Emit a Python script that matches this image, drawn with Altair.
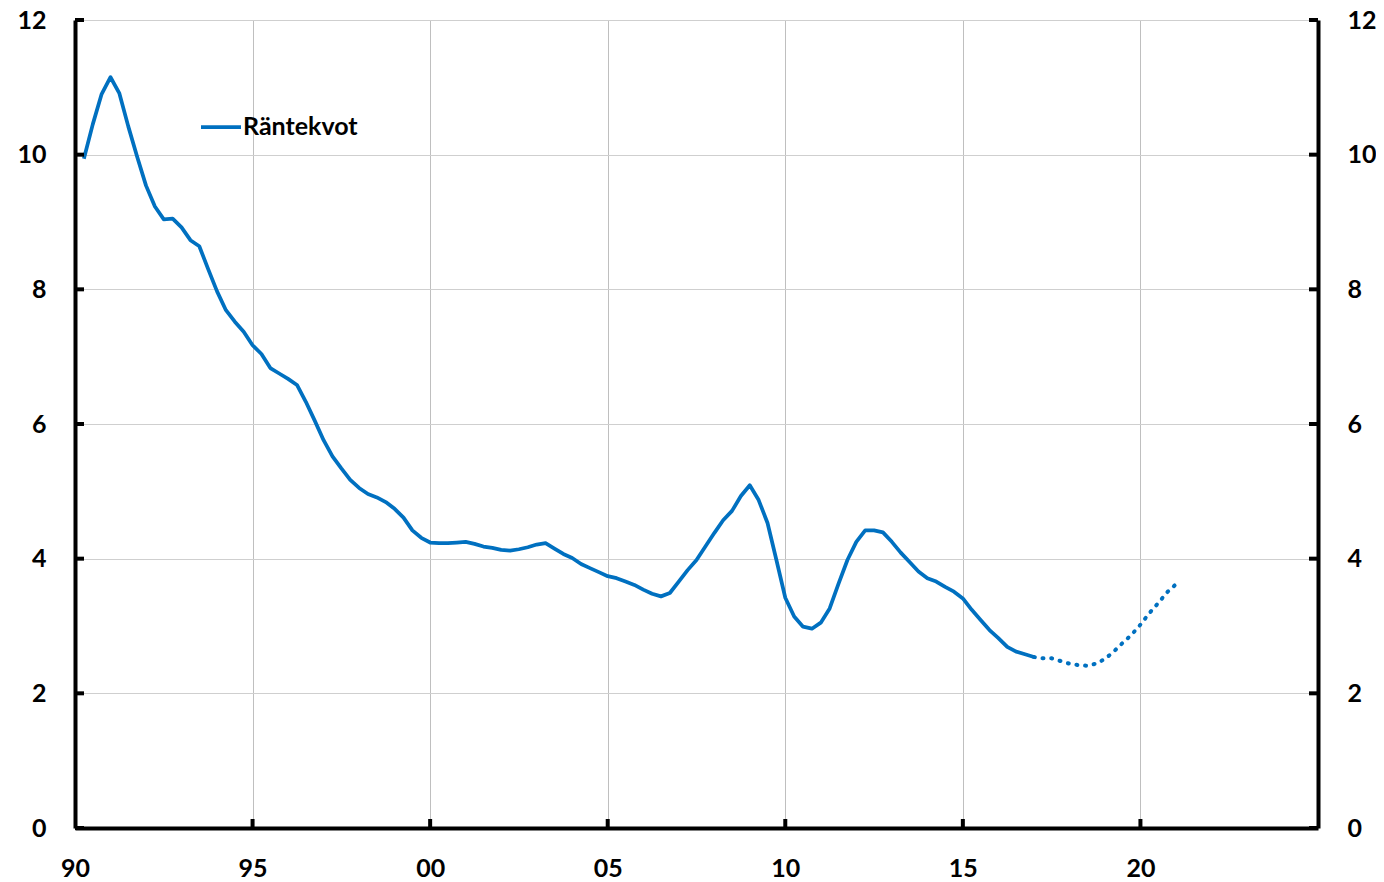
import altair as alt
import pandas as pd

# ---- data (quarterly) ----
series = ["Räntekvot"]
start_t = 1990.25
step_t = 0.25
actual = [
    9.94, 10.45, 10.90, 11.15, 10.91, 10.42, 9.97, 9.54,
    9.23, 9.04, 9.05, 8.92, 8.73, 8.64, 8.30, 7.97,
    7.69, 7.52, 7.37, 7.17, 7.04, 6.83, 6.75, 6.67,
    6.58, 6.33, 6.05, 5.76, 5.52, 5.34, 5.17, 5.05,
    4.96, 4.91, 4.84, 4.74, 4.61, 4.42, 4.31, 4.24,
    4.23, 4.23, 4.24, 4.25, 4.22, 4.18, 4.16, 4.13,
    4.12, 4.14, 4.17, 4.21, 4.23, 4.15, 4.07, 4.01,
    3.92, 3.86, 3.80, 3.74, 3.71, 3.66, 3.61, 3.54,
    3.48, 3.44, 3.49, 3.66, 3.83, 3.98, 4.18, 4.38,
    4.57, 4.71, 4.93, 5.09, 4.87, 4.53, 3.98, 3.42,
    3.14, 2.99, 2.96, 3.05, 3.26, 3.63, 3.98, 4.25,
    4.42, 4.42, 4.39, 4.25, 4.09, 3.95, 3.81, 3.71,
    3.66, 3.58, 3.51, 3.41, 3.24, 3.09, 2.94, 2.82,
    2.69, 2.62, 2.58, 2.54,
]
forecast = [
    2.54, 2.52, 2.52, 2.48, 2.44, 2.42, 2.41, 2.44,
    2.51, 2.62, 2.75, 2.87, 3.02, 3.19, 3.34, 3.50, 3.62,
]
x_ticks = [1990, 1995, 2000, 2005, 2010, 2015, 2020]
x_inner_ticks = [1995, 2000, 2005, 2010, 2015, 2020]
y_ticks = [0, 2, 4, 6, 8, 10, 12]
x_domain = [1990, 2025]
y_domain = [0, 12]

t_actual = [start_t + i * step_t for i in range(len(actual))]
t_fore = [t_actual[-1] + i * step_t for i in range(len(forecast))]

df_a = pd.DataFrame({"t": t_actual, "v": actual, "serie": series[0]})
df_f = pd.DataFrame({"t": t_fore, "v": forecast})
df_yt = pd.DataFrame({"v": y_ticks})
df_xt = pd.DataFrame({"t": x_inner_ticks})

# ---- styling ----
FONT = "Lato"
BLUE = "#0070C0"
W, H = 1243, 808
TICK = 9

xscale = alt.Scale(domain=x_domain, nice=False, zero=False)
yscale = alt.Scale(domain=y_domain, nice=False, zero=True)

label_style = dict(labelFont=FONT, labelFontSize=25, labelFontWeight="bold",
                   labelColor="black", title=None, ticks=False,
                   domainColor="black", domainWidth=4, labelFlush=False,
                   labelOverlap=False)

xaxis = alt.Axis(values=x_ticks, labelExpr="substring(toString(datum.value), 2, 4)",
                 grid=True, gridColor="#bfbfbf", gridWidth=1, labelPadding=28,
                 **label_style)
yaxis_left = alt.Axis(values=y_ticks, orient="left", grid=True, gridColor="#cfcfcf",
                      gridWidth=1, labelPadding=29, format="d", **label_style)
yaxis_right = alt.Axis(values=y_ticks, orient="right", grid=False, labelPadding=29,
                       labelAlign="left", format="d", **label_style)

solid = alt.Chart(df_a).mark_line(strokeWidth=3.75, strokeJoin="round").encode(
    x=alt.X("t:Q", scale=xscale, axis=xaxis),
    y=alt.Y("v:Q", scale=yscale, axis=yaxis_left),
    color=alt.Color(
        "serie:N",
        scale=alt.Scale(domain=series, range=[BLUE]),
        legend=alt.Legend(
            orient="none", legendX=124, legendY=85, title=None,
            symbolType="stroke", symbolSize=1600, symbolStrokeWidth=3.75,
            labelFont=FONT, labelFontSize=25, labelFontWeight="bold",
            labelColor="black", labelOffset=0, padding=0,
        ),
    ),
)

dotted = alt.Chart(df_f).mark_line(
    strokeWidth=4, strokeDash=[1, 7.7], strokeCap="round", color=BLUE
).encode(x=alt.X("t:Q"), y=alt.Y("v:Q"))

left_ticks = alt.Chart(df_yt).mark_rule(strokeWidth=4, color="black").encode(
    y=alt.Y("v:Q"), x=alt.value(0), x2=alt.value(TICK)
)
bottom_ticks = alt.Chart(df_xt).mark_rule(strokeWidth=4, color="black").encode(
    x=alt.X("t:Q"), y=alt.value(H), y2=alt.value(H - TICK)
)

left_layer = alt.layer(solid, dotted, left_ticks, bottom_ticks)

right_ticks = alt.Chart(df_yt).mark_rule(strokeWidth=4, color="black").encode(
    y=alt.Y("v:Q", scale=yscale, axis=yaxis_right),
    x=alt.value(W - TICK), x2=alt.value(W),
)

chart = (
    alt.layer(left_layer, right_ticks)
    .resolve_scale(y="independent")
    .properties(
        width=W, height=H,
        padding={"left": 67, "top": 12, "right": 58, "bottom": 50},
        autosize=alt.AutoSizeParams(type="none"),
        background="white",
    )
    .configure_view(stroke=None)
)

chart.save("out.html", embed_options={"renderer": "svg", "actions": False})
